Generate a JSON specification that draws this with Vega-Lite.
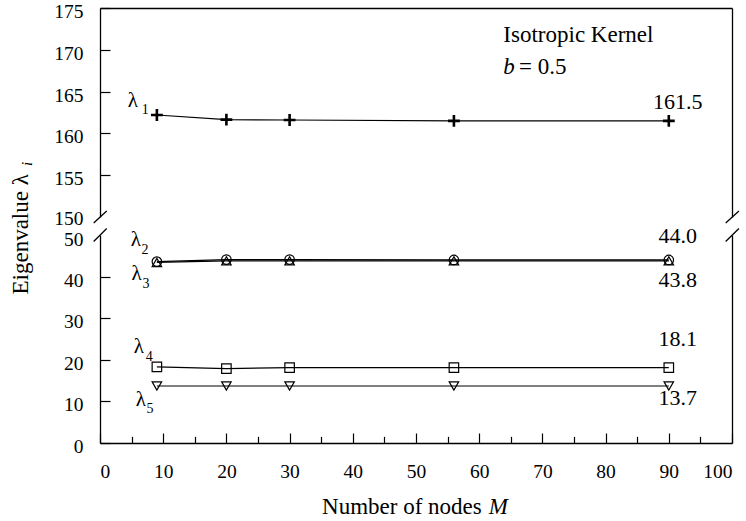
{
  "$schema": "https://vega.github.io/schema/vega-lite/v6.json",
  "background": "white",
  "padding": {"left": 9, "top": 1, "right": 8, "bottom": 4},
  "bounds": "flush",
  "spacing": 18,
  "config": {
    "font": "Liberation Serif",
    "view": {"stroke": null},
    "axis": {"grid": false, "domainColor": "black", "tickColor": "black", "labelColor": "black", "labelFont": "Liberation Serif", "labelFontSize": 19.5, "domainWidth": 1.3, "tickWidth": 1.2}
  },
  "datasets": {
    "pts": [
      {"panel": "top", "series": "λ1", "M": 9, "value": 162.2},
      {"panel": "top", "series": "λ1", "M": 20, "value": 161.65},
      {"panel": "top", "series": "λ1", "M": 30, "value": 161.6},
      {"panel": "top", "series": "λ1", "M": 56, "value": 161.5},
      {"panel": "top", "series": "λ1", "M": 90, "value": 161.5},
      {"panel": "bot", "series": "λ2", "M": 9, "value": 43.6},
      {"panel": "bot", "series": "λ2", "M": 20, "value": 44.1},
      {"panel": "bot", "series": "λ2", "M": 30, "value": 44.1},
      {"panel": "bot", "series": "λ2", "M": 56, "value": 44.0},
      {"panel": "bot", "series": "λ2", "M": 90, "value": 44.0},
      {"panel": "bot", "series": "λ3", "M": 9, "value": 43.4},
      {"panel": "bot", "series": "λ3", "M": 20, "value": 43.8},
      {"panel": "bot", "series": "λ3", "M": 30, "value": 43.8},
      {"panel": "bot", "series": "λ3", "M": 56, "value": 43.8},
      {"panel": "bot", "series": "λ3", "M": 90, "value": 43.8},
      {"panel": "bot", "series": "λ4", "M": 9, "value": 18.3},
      {"panel": "bot", "series": "λ4", "M": 20, "value": 17.9},
      {"panel": "bot", "series": "λ4", "M": 30, "value": 18.1},
      {"panel": "bot", "series": "λ4", "M": 56, "value": 18.1},
      {"panel": "bot", "series": "λ4", "M": 90, "value": 18.1},
      {"panel": "bot", "series": "λ5", "M": 9, "value": 13.7},
      {"panel": "bot", "series": "λ5", "M": 20, "value": 13.7},
      {"panel": "bot", "series": "λ5", "M": 30, "value": 13.7},
      {"panel": "bot", "series": "λ5", "M": 56, "value": 13.7},
      {"panel": "bot", "series": "λ5", "M": 90, "value": 13.7}
    ],
    "txt": [
      {"panel": "top", "kind": "lam", "x": 4.39, "y": 163.18, "text": "λ"},
      {"panel": "top", "kind": "sub", "x": 6.6, "y": 162.27, "text": "1"},
      {"panel": "top", "kind": "val", "x": 91.4, "y": 162.87, "text": "161.5"},
      {"panel": "top", "kind": "note", "x": 63.82, "y": 170.97, "text": "Isotropic Kernel"},
      {"panel": "top", "kind": "noteI", "x": 63.82, "y": 167.14, "text": "b"},
      {"panel": "top", "kind": "note", "x": 66.3, "y": 167.14, "text": "= 0.5"},
      {"panel": "bot", "kind": "lam", "x": 4.87, "y": 47.24, "text": "λ"},
      {"panel": "bot", "kind": "sub", "x": 6.56, "y": 45.48, "text": "2"},
      {"panel": "bot", "kind": "lam", "x": 4.98, "y": 39.23, "text": "λ"},
      {"panel": "bot", "kind": "sub", "x": 6.72, "y": 37.21, "text": "3"},
      {"panel": "bot", "kind": "lam", "x": 5.34, "y": 21.59, "text": "λ"},
      {"panel": "bot", "kind": "sub", "x": 7.24, "y": 19.76, "text": "4"},
      {"panel": "bot", "kind": "lam", "x": 5.66, "y": 9.01, "text": "λ"},
      {"panel": "bot", "kind": "sub", "x": 7.35, "y": 7.16, "text": "5"},
      {"panel": "bot", "kind": "val", "x": 91.4, "y": 48.03, "text": "44.0"},
      {"panel": "bot", "kind": "val", "x": 91.4, "y": 37.62, "text": "43.8"},
      {"panel": "bot", "kind": "val", "x": 91.4, "y": 23.2, "text": "18.1"},
      {"panel": "bot", "kind": "val", "x": 91.4, "y": 9.2, "text": "13.7"},
      {"panel": "bot", "kind": "ytitle", "x": -11.46, "y": 35.7, "text": "Eigenvalue λ"},
      {"panel": "bot", "kind": "ytitleSub", "x": -10.82, "y": 66.6, "text": "i"},
      {"panel": "bot", "kind": "xtitle", "x": 35.13, "y": -17.1, "text": "Number of nodes"},
      {"panel": "bot", "kind": "xtitleI", "x": 61.5, "y": -17.1, "text": "M"}
    ],
    "brk": [
      {"panel": "top", "x1": -1.0, "y1": 149.29, "x2": 1.06, "y2": 150.72},
      {"panel": "top", "x1": 99.0, "y1": 149.29, "x2": 101.1, "y2": 150.72},
      {"panel": "bot", "x1": -1.0, "y1": 48.44, "x2": 1.06, "y2": 51.56},
      {"panel": "bot", "x1": 99.0, "y1": 48.44, "x2": 101.1, "y2": 51.56}
    ]
  },
  "vconcat": [
    {
      "width": 632,
      "height": 209,
      "resolve": {"axis": {"x": "independent", "y": "independent"}},
      "layer": [
        {
          "data": {"name": "pts"},
          "transform": [{"filter": "datum.panel === 'top'"}],
          "mark": {"type": "line", "color": "black", "strokeWidth": 1.2},
          "encoding": {
            "x": {"field": "M", "type": "quantitative", "scale": {"domain": [0, 100], "nice": false},
              "axis": {"orient": "top", "labels": false, "ticks": false, "title": null, "grid": false, "domainColor": "black", "domainWidth": 1.3}},
            "y": {"field": "value", "type": "quantitative", "scale": {"domain": [150, 175], "nice": false, "zero": false},
              "axis": {"orient": "left", "values": [150, 155, 160, 165, 170, 175], "tickSize": -10, "labelPadding": 27, "title": null,
                "labelOffset": {"condition": {"test": "datum.value === 150", "value": 1.5}, "value": 3.5},
                "grid": false, "domainColor": "black", "domainWidth": 1.3, "tickColor": "black", "tickWidth": 1.2, "labelColor": "black", "labelFont": "Liberation Serif", "labelFontSize": 19.5,
                "tickOpacity": {"condition": {"test": "datum.value === 150", "value": 0}, "value": 1}}},
            "detail": {"field": "series"}
          }
        },
        {
          "data": {"name": "pts"},
          "transform": [{"filter": "datum.panel === 'top'"}],
          "mark": {"type": "point", "shape": "M-1,0H1M0,-1V1", "size": 140, "stroke": "black", "strokeWidth": 2.6, "filled": false, "opacity": 1},
          "encoding": {
            "x": {"field": "M", "type": "quantitative", "axis": null},
            "y": {"field": "value", "type": "quantitative", "axis": {"orient": "right", "labels": false, "ticks": false, "title": null, "grid": false, "domainColor": "black", "domainWidth": 1.3}}
          }
        },
        {
          "data": {"name": "brk"},
          "transform": [{"filter": "datum.panel === 'top'"}],
          "mark": {"type": "rule", "color": "black", "strokeWidth": 1.3},
          "encoding": {
            "x": {"field": "x1", "type": "quantitative", "axis": null},
            "x2": {"field": "x2"},
            "y": {"field": "y1", "type": "quantitative", "axis": null},
            "y2": {"field": "y2"}
          }
        },
        {
          "data": {"name": "txt"},
          "transform": [{"filter": "datum.panel === 'top' && datum.kind === 'lam'"}],
          "mark": {"type": "text", "font": "Liberation Serif", "color": "black", "baseline": "alphabetic", "fontSize": 21, "align": "left"},
          "encoding": {"x": {"field": "x", "type": "quantitative", "axis": null}, "y": {"field": "y", "type": "quantitative", "axis": null}, "text": {"field": "text"}}
        },
        {
          "data": {"name": "txt"},
          "transform": [{"filter": "datum.panel === 'top' && datum.kind === 'sub'"}],
          "mark": {"type": "text", "font": "Liberation Serif", "color": "black", "baseline": "alphabetic", "fontSize": 14, "align": "left"},
          "encoding": {"x": {"field": "x", "type": "quantitative", "axis": null}, "y": {"field": "y", "type": "quantitative", "axis": null}, "text": {"field": "text"}}
        },
        {
          "data": {"name": "txt"},
          "transform": [{"filter": "datum.panel === 'top' && datum.kind === 'val'"}],
          "mark": {"type": "text", "font": "Liberation Serif", "color": "black", "baseline": "alphabetic", "fontSize": 22, "align": "center"},
          "encoding": {"x": {"field": "x", "type": "quantitative", "axis": null}, "y": {"field": "y", "type": "quantitative", "axis": null}, "text": {"field": "text"}}
        },
        {
          "data": {"name": "txt"},
          "transform": [{"filter": "datum.panel === 'top' && datum.kind === 'note'"}],
          "mark": {"type": "text", "font": "Liberation Serif", "color": "black", "baseline": "alphabetic", "fontSize": 23, "align": "left"},
          "encoding": {"x": {"field": "x", "type": "quantitative", "axis": null}, "y": {"field": "y", "type": "quantitative", "axis": null}, "text": {"field": "text"}}
        },
        {
          "data": {"name": "txt"},
          "transform": [{"filter": "datum.panel === 'top' && datum.kind === 'noteI'"}],
          "mark": {"type": "text", "font": "Liberation Serif", "color": "black", "baseline": "alphabetic", "fontSize": 23, "align": "left", "fontStyle": "italic"},
          "encoding": {"x": {"field": "x", "type": "quantitative", "axis": null}, "y": {"field": "y", "type": "quantitative", "axis": null}, "text": {"field": "text"}}
        }
      ]
    },
    {
      "width": 632,
      "height": 208,
      "resolve": {"axis": {"x": "independent", "y": "independent"}},
      "layer": [
        {
          "data": {"name": "pts"},
          "transform": [{"filter": "datum.panel === 'bot'"}],
          "mark": {"type": "line", "color": "black", "strokeWidth": 1.2},
          "encoding": {
            "x": {"field": "M", "type": "quantitative", "scale": {"domain": [0, 100], "nice": false},
              "axis": {"orient": "bottom", "values": [0, 10, 20, 30, 40, 50, 60, 70, 80, 90, 100], "tickSize": -10, "labelPadding": 29, "title": null,
                "grid": false, "domainColor": "black", "domainWidth": 1.3, "tickColor": "black", "tickWidth": 1.2, "labelColor": "black", "labelFont": "Liberation Serif", "labelFontSize": 19.5}},
            "y": {"field": "value", "type": "quantitative", "scale": {"domain": [0, 50], "nice": false},
              "axis": {"orient": "left", "values": [0, 10, 20, 30, 40, 50], "tickSize": -10, "labelPadding": 27, "title": null,
                "labelOffset": {"condition": {"test": "datum.value === 50", "value": 4.5}, "value": 3.5},
                "grid": false, "domainColor": "black", "domainWidth": 1.3, "tickColor": "black", "tickWidth": 1.2, "labelColor": "black", "labelFont": "Liberation Serif", "labelFontSize": 19.5,
                "tickOpacity": {"condition": {"test": "datum.value === 50", "value": 0}, "value": 1}}},
            "detail": {"field": "series"}
          }
        },
        {
          "data": {"name": "pts"},
          "transform": [{"filter": "datum.panel === 'bot'"}],
          "mark": {"type": "point", "size": 90, "stroke": "black", "strokeWidth": 1.2, "filled": false, "opacity": 1},
          "encoding": {
            "x": {"field": "M", "type": "quantitative",
              "axis": {"orient": "bottom", "values": [5, 15, 25, 35, 45, 55, 65, 75, 85, 95], "tickSize": -6.6, "labels": false, "domain": false, "title": null, "grid": false, "tickColor": "black", "tickWidth": 1.2}},
            "y": {"field": "value", "type": "quantitative", "axis": {"orient": "right", "labels": false, "ticks": false, "title": null, "grid": false, "domainColor": "black", "domainWidth": 1.3}},
            "shape": {"field": "series", "type": "nominal", "scale": {"domain": ["λ2", "λ3", "λ4", "λ5"], "range": ["circle", "triangle-up", "square", "triangle-down"]}, "legend": null}
          }
        },
        {
          "data": {"name": "brk"},
          "transform": [{"filter": "datum.panel === 'bot'"}],
          "mark": {"type": "rule", "color": "black", "strokeWidth": 1.3},
          "encoding": {
            "x": {"field": "x1", "type": "quantitative", "axis": null},
            "x2": {"field": "x2"},
            "y": {"field": "y1", "type": "quantitative", "axis": null},
            "y2": {"field": "y2"}
          }
        },
        {
          "data": {"name": "txt"},
          "transform": [{"filter": "datum.panel === 'bot' && datum.kind === 'lam'"}],
          "mark": {"type": "text", "font": "Liberation Serif", "color": "black", "baseline": "alphabetic", "fontSize": 21, "align": "left"},
          "encoding": {"x": {"field": "x", "type": "quantitative", "axis": null}, "y": {"field": "y", "type": "quantitative", "axis": null}, "text": {"field": "text"}}
        },
        {
          "data": {"name": "txt"},
          "transform": [{"filter": "datum.panel === 'bot' && datum.kind === 'sub'"}],
          "mark": {"type": "text", "font": "Liberation Serif", "color": "black", "baseline": "alphabetic", "fontSize": 14, "align": "left"},
          "encoding": {"x": {"field": "x", "type": "quantitative", "axis": null}, "y": {"field": "y", "type": "quantitative", "axis": null}, "text": {"field": "text"}}
        },
        {
          "data": {"name": "txt"},
          "transform": [{"filter": "datum.panel === 'bot' && datum.kind === 'val'"}],
          "mark": {"type": "text", "font": "Liberation Serif", "color": "black", "baseline": "alphabetic", "fontSize": 22, "align": "center"},
          "encoding": {"x": {"field": "x", "type": "quantitative", "axis": null}, "y": {"field": "y", "type": "quantitative", "axis": null}, "text": {"field": "text"}}
        },
        {
          "data": {"name": "txt"},
          "transform": [{"filter": "datum.panel === 'bot' && datum.kind === 'ytitle'"}],
          "mark": {"type": "text", "font": "Liberation Serif", "color": "black", "baseline": "alphabetic", "fontSize": 23, "align": "left", "angle": 270},
          "encoding": {"x": {"field": "x", "type": "quantitative", "axis": null}, "y": {"field": "y", "type": "quantitative", "axis": null}, "text": {"field": "text"}}
        },
        {
          "data": {"name": "txt"},
          "transform": [{"filter": "datum.panel === 'bot' && datum.kind === 'ytitleSub'"}],
          "mark": {"type": "text", "font": "Liberation Serif", "color": "black", "baseline": "alphabetic", "fontSize": 15, "align": "left", "angle": 270, "fontStyle": "italic"},
          "encoding": {"x": {"field": "x", "type": "quantitative", "axis": null}, "y": {"field": "y", "type": "quantitative", "axis": null}, "text": {"field": "text"}}
        },
        {
          "data": {"name": "txt"},
          "transform": [{"filter": "datum.panel === 'bot' && datum.kind === 'xtitle'"}],
          "mark": {"type": "text", "font": "Liberation Serif", "color": "black", "baseline": "alphabetic", "fontSize": 23, "align": "left"},
          "encoding": {"x": {"field": "x", "type": "quantitative", "axis": null}, "y": {"field": "y", "type": "quantitative", "axis": null}, "text": {"field": "text"}}
        },
        {
          "data": {"name": "txt"},
          "transform": [{"filter": "datum.panel === 'bot' && datum.kind === 'xtitleI'"}],
          "mark": {"type": "text", "font": "Liberation Serif", "color": "black", "baseline": "alphabetic", "fontSize": 23, "align": "left", "fontStyle": "italic"},
          "encoding": {"x": {"field": "x", "type": "quantitative", "axis": null}, "y": {"field": "y", "type": "quantitative", "axis": null}, "text": {"field": "text"}}
        }
      ]
    }
  ]
}
